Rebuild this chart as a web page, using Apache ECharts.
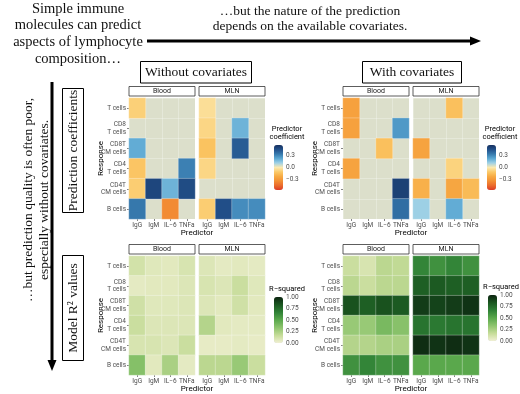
<!DOCTYPE html>
<html>
<head>
<meta charset="utf-8">
<script src="https://cdn.jsdelivr.net/npm/echarts@6/dist/echarts.min.js"></script>
<style>
html, body { margin: 0; padding: 0; background: #fff; }
#chart { width: 520px; height: 394px; }
</style>
</head>
<body>
<div id="chart"></div>
<script>
// categories
var predictors = ['IgG', 'IgM', 'IL\u22126', 'TNFa'];
var responses = ['T cells', 'CD8\nT cells', 'CD8T\nCM cells', 'CD4\nT cells', 'CD4T\nCM cells', 'B cells'];
var facets = ['Blood', 'MLN'];

// predictor coefficients (rows = responses, cols = predictors), null = not selected
var coefNoCovBlood = [
    [-0.09, null, null, null],
    [null, null, null, null],
    [0.22, null, null, null],
    [-0.13, null, null, 0.33],
    [-0.10, 0.50, 0.20, 0.48],
    [0.35, null, -0.36, null]
];
var coefNoCovMLN = [
    [-0.04, null, null, null],
    [-0.07, null, 0.20, null],
    [-0.14, null, 0.43, null],
    [-0.07, null, null, null],
    [null, null, null, null],
    [-0.10, 0.47, 0.30, 0.30]
];
var coefCovBlood = [
    [-0.27, null, null, null],
    [-0.27, null, null, 0.27],
    [null, null, -0.15, null],
    [-0.26, null, null, null],
    [null, null, null, 0.52],
    [null, null, null, 0.38]
];
var coefCovMLN = [
    [null, null, -0.15, null],
    [null, null, null, null],
    [-0.26, null, null, null],
    [null, null, -0.08, null],
    [-0.21, null, -0.25, -0.17],
    [0.12, null, 0.22, null]
];

// model R-squared values
var r2NoCovBlood = [
    [0.12, 0.07, 0.06, 0.10],
    [0.05, 0.06, 0.06, 0.08],
    [0.13, 0.07, 0.07, 0.08],
    [0.15, 0.08, 0.08, 0.08],
    [0.10, 0.10, 0.08, 0.15],
    [0.36, 0.06, 0.25, 0.05]
];
var r2NoCovMLN = [
    [0.08, 0.05, 0.06, 0.05],
    [0.10, 0.08, 0.15, 0.07],
    [0.08, 0.06, 0.13, 0.06],
    [0.22, 0.06, 0.05, 0.05],
    [0.04, 0.04, 0.05, 0.04],
    [0.20, 0.20, 0.30, 0.15]
];
var r2CovBlood = [
    [0.15, 0.10, 0.20, 0.18],
    [0.20, 0.15, 0.20, 0.20],
    [0.85, 0.80, 0.85, 0.82],
    [0.30, 0.30, 0.40, 0.35],
    [0.22, 0.22, 0.25, 0.25],
    [0.60, 0.65, 0.60, 0.60]
];
var r2CovMLN = [
    [0.65, 0.60, 0.65, 0.60],
    [0.80, 0.82, 0.80, 0.80],
    [0.92, 0.90, 0.92, 0.95],
    [0.72, 0.70, 0.72, 0.72],
    [0.97, 0.95, 0.97, 0.95],
    [0.50, 0.50, 0.50, 0.50]
];

// colour bar ticks
var coefTicks = [0.3, 0, -0.3];
var coefTickLabels = ['0.3', '0.0', '\u22120.3'];
var r2Ticks = [1, 0.75, 0.5, 0.25, 0];
var r2TickLabels = ['1.00', '0.75', '0.50', '0.25', '0.00'];

var coefLim = 0.58;
var coefColors = ['#dd3b26', '#ea6b2c', '#f38f34', '#f7aa43', '#fbc968', '#fbe9b0',
    '#9fd1e6', '#5ba8d3', '#3679ad', '#22508a', '#16305f'];
var r2Colors = ['#f1f0d3', '#c6dc99', '#8dc46d', '#5aa84c', '#2f8136', '#1a5720', '#0c2410'];

var SERIF = '"Liberation Serif", "DejaVu Serif", serif';
var SANS = 'Roboto, "Liberation Sans", Arial, sans-serif';
var NA_COLOR = '#dcdfcb';

var panels = [
    { data: coefNoCovBlood, left: 129, top: 98, height: 121, kind: 'coef', facet: 0 },
    { data: coefNoCovMLN, left: 199, top: 98, height: 121, kind: 'coef', facet: 1 },
    { data: coefCovBlood, left: 343, top: 98, height: 121, kind: 'coef', facet: 0 },
    { data: coefCovMLN, left: 413, top: 98, height: 121, kind: 'coef', facet: 1 },
    { data: r2NoCovBlood, left: 129, top: 256, height: 119, kind: 'r2', facet: 0 },
    { data: r2NoCovMLN, left: 199, top: 256, height: 119, kind: 'r2', facet: 1 },
    { data: r2CovBlood, left: 343, top: 256, height: 119, kind: 'r2', facet: 0 },
    { data: r2CovMLN, left: 413, top: 256, height: 119, kind: 'r2', facet: 1 }
];
var PANEL_W = 66;

var grid = [], xAxis = [], yAxis = [], series = [], graphic = [];

panels.forEach(function (p, i) {
    grid.push({
        left: p.left, top: p.top, width: PANEL_W, height: p.height,
        show: true, backgroundColor: p.kind == 'coef' ? NA_COLOR : '#fff', borderWidth: 0
    });
    xAxis.push({
        type: 'category', gridIndex: i, data: predictors, position: 'bottom',
        axisLine: { show: false },
        axisTick: { show: true, length: 2, lineStyle: { color: '#333', width: 0.6 }, alignWithLabel: true },
        axisLabel: { fontSize: 6.5, color: '#4d4d4d', margin: 3, fontFamily: SANS, interval: 0 },
        splitLine: { show: true, lineStyle: { color: 'rgba(255,255,255,0.55)', width: 0.5 } }
    });
    yAxis.push({
        type: 'category', gridIndex: i, data: responses, inverse: true,
        axisLine: { show: false },
        axisTick: { show: p.facet == 0, length: 2, lineStyle: { color: '#333', width: 0.6 }, alignWithLabel: true },
        axisLabel: { show: p.facet == 0, fontSize: 6.5, lineHeight: 7.5, color: '#4d4d4d', margin: 3, fontFamily: SANS, align: 'right' },
        splitLine: { show: true, lineStyle: { color: 'rgba(255,255,255,0.55)', width: 0.5 } }
    });
    var d = [];
    p.data.forEach(function (row, r) {
        row.forEach(function (v, c) {
            if (v !== null) d.push([c, r, v]);
        });
    });
    series.push({
        type: 'heatmap', xAxisIndex: i, yAxisIndex: i, data: d,
        itemStyle: { borderColor: 'rgba(255,255,255,0.55)', borderWidth: 0.5 },
        emphasis: { disabled: true }
    });
    // facet strip
    graphic.push({
        type: 'rect', shape: { x: p.left, y: p.top - 11.5, width: PANEL_W, height: 9.5 },
        style: { fill: '#fff', stroke: '#333', lineWidth: 0.8 }
    });
    graphic.push({
        type: 'text', x: p.left + PANEL_W / 2, y: p.top - 6.5,
        style: { text: facets[p.facet], fontSize: 7, fill: '#1a1a1a', fontFamily: SANS, align: 'center', verticalAlign: 'middle' }
    });
    if (p.facet == 0) {
        graphic.push({
            type: 'text', x: p.left + PANEL_W + 2, y: p.top + p.height + 13.5,
            style: { text: 'Predictor', fontSize: 8, fill: '#000', fontFamily: SANS, align: 'center', verticalAlign: 'middle' }
        });
        graphic.push({
            type: 'text', x: p.left - 28, y: p.top + p.height / 2, rotation: Math.PI / 2,
            style: { text: 'Response', fontSize: 8, fill: '#000', fontFamily: SANS, align: 'center', verticalAlign: 'middle' }
        });
    }
});

// colour bars
var legends = [
    { left: 274, top: 145, height: 45, kind: 'coef', title: 'Predictor\ncoefficient', series: [0, 1] },
    { left: 487, top: 145, height: 45, kind: 'coef', title: 'Predictor\ncoefficient', series: [2, 3] },
    { left: 274, top: 297, height: 46, kind: 'r2', title: 'R\u2212squared', series: [4, 5] },
    { left: 488, top: 295, height: 46, kind: 'r2', title: 'R\u2212squared', series: [6, 7] }
];
var visualMap = [];
legends.forEach(function (l) {
    var isCoef = l.kind == 'coef';
    var min = isCoef ? -coefLim : 0, max = isCoef ? coefLim : 1;
    visualMap.push({
        type: 'continuous', min: min, max: max, seriesIndex: l.series,
        left: l.left, top: l.top, itemWidth: 9, itemHeight: l.height, padding: 0,
        calculable: false, realtime: false, hoverLink: false, text: null,
        inRange: { color: isCoef ? coefColors : r2Colors }
    });
    var gi = grid.length;
    grid.push({ left: l.left, top: l.top, width: 9, height: l.height, show: false });
    xAxis.push({ type: 'value', gridIndex: gi, show: false, min: 0, max: 1 });
    var ticks = isCoef ? coefTicks : r2Ticks;
    var labels = isCoef ? coefTickLabels : r2TickLabels;
    yAxis.push({
        type: 'value', gridIndex: gi, min: min, max: max, position: 'right',
        axisLine: { show: false }, splitLine: { show: false },
        axisTick: { show: true, inside: true, length: 2, customValues: ticks, lineStyle: { color: '#fff', width: 0.6 } },
        axisLabel: {
            fontSize: 6.5, color: '#4d4d4d', margin: 3, fontFamily: SANS, customValues: ticks,
            formatter: function (v) {
                for (var k = 0; k < ticks.length; k++) if (Math.abs(ticks[k] - v) < 1e-9) return labels[k];
                return '';
            }
        }
    });
    graphic.push({
        type: 'text', x: l.left + 13, y: l.top - 4,
        style: { text: l.title, fontSize: 7.5, lineHeight: 8, fill: '#000', fontFamily: SANS, align: 'center', verticalAlign: 'bottom' }
    });
});

// annotations
graphic.push({
    type: 'text', x: 78, y: 34,
    style: { text: 'Simple immune\nmolecules can predict\naspects of lymphocyte\ncomposition\u2026', fontSize: 14.5, lineHeight: 16.7, fill: '#111', fontFamily: SERIF, align: 'center', verticalAlign: 'middle' }
});
graphic.push({
    type: 'text', x: 310, y: 19,
    style: { text: '\u2026but the nature of the prediction\ndepends on the available covariates.', fontSize: 13.5, lineHeight: 15.5, fill: '#111', fontFamily: SERIF, align: 'center', verticalAlign: 'middle' }
});
graphic.push({ type: 'line', shape: { x1: 147, y1: 41, x2: 472, y2: 41 }, style: { stroke: '#000', lineWidth: 3 } });
graphic.push({ type: 'polygon', shape: { points: [[470, 36.5], [481, 41], [470, 45.5]] }, style: { fill: '#000' } });
graphic.push({ type: 'line', shape: { x1: 52, y1: 82, x2: 52, y2: 362 }, style: { stroke: '#000', lineWidth: 3 } });
graphic.push({ type: 'polygon', shape: { points: [[47.5, 360], [52, 371], [56.5, 360]] }, style: { fill: '#000' } });

function box(x, y, w, h, txt, rot) {
    graphic.push({ type: 'rect', shape: { x: x, y: y, width: w, height: h }, style: { fill: '#fff', stroke: '#000', lineWidth: 1 } });
    graphic.push({
        type: 'text', x: x + w / 2, y: y + h / 2, rotation: rot ? Math.PI / 2 : 0,
        style: { text: txt, fontSize: 13.5, fill: '#111', fontFamily: SERIF, align: 'center', verticalAlign: 'middle' }
    });
}
box(140.5, 61.5, 111, 21.5, 'Without covariates', false);
box(362.5, 61.5, 99, 21.5, 'With covariates', false);
box(62.5, 88.5, 21, 124, 'Prediction coefficients', true);
box(62.5, 255.5, 21, 105, 'Model R\u00b2 values', true);

graphic.push({
    type: 'text', x: 36, y: 200, rotation: Math.PI / 2,
    style: { text: '\u2026but prediction quality is often poor,\nespecially without covariates.', fontSize: 13.5, lineHeight: 16, fill: '#111', fontFamily: SERIF, align: 'center', verticalAlign: 'middle' }
});

var chart = echarts.init(document.getElementById('chart'), null, { renderer: 'canvas' });
chart.setOption({
    animation: false,
    backgroundColor: '#fff',
    grid: grid,
    xAxis: xAxis,
    yAxis: yAxis,
    visualMap: visualMap,
    series: series,
    graphic: graphic
});
</script>
</body>
</html>
